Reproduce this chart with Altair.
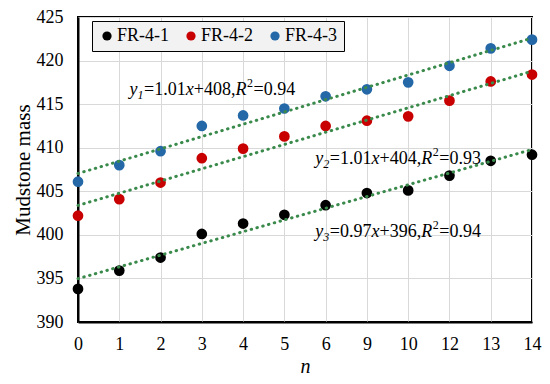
import altair as alt
import pandas as pd

# ---- data ----
n_labels = ["0", "1", "2", "3", "4", "5", "6", "9", "10", "12", "13", "14"]
series_names = ["FR-4-1", "FR-4-2", "FR-4-3"]
fr41 = [393.8, 395.9, 397.4, 400.1, 401.3, 402.3, 403.4, 404.8, 405.1, 406.8, 408.5, 409.2]
fr42 = [402.2, 404.1, 406.0, 408.8, 409.9, 411.3, 412.5, 413.1, 413.6, 415.4, 417.6, 418.4]
fr43 = [406.1, 408.0, 409.6, 412.5, 413.7, 414.5, 415.9, 416.7, 417.5, 419.4, 421.4, 422.4]
colors = ["#000000", "#c80000", "#2468a8"]

# equation labels
eq_sub = ["1", "2", "3"]
eq_slope = ["1.01", "1.01", "0.97"]
eq_intercept = ["408", "404", "396"]
eq_r2 = ["0.94", "0.93", "0.94"]
# annotation anchors (index position on x, value on y)
eq_x = [1.25, 5.75, 5.75]
eq_y = [416.1, 408.15, 399.75]

FONT = "Liberation Serif"

rows = []
for name, vals in zip(series_names, [fr41, fr42, fr43]):
    for i, v in enumerate(vals):
        rows.append({"idx": i, "n": n_labels[i], "value": v, "series": name})
df = pd.DataFrame(rows)

color = alt.Color("series:N", scale=alt.Scale(domain=series_names, range=colors),
                  legend=alt.Legend(title=None, orient="none", legendX=14, legendY=4,
                                    direction="horizontal", fillColor="#f2f2f2",
                                    strokeColor="#000000", padding=6, columnPadding=12,
                                    labelFont=FONT, labelFontSize=18, labelColor="#000000",
                                    symbolType="circle", symbolSize=85, symbolStrokeWidth=0,
                                    labelOffset=1))

label_expr = "[" + ",".join("'%s'" % s for s in n_labels) + "][datum.value]"

x = alt.X("idx:Q", scale=alt.Scale(domain=[0, len(n_labels) - 1], nice=False),
          axis=alt.Axis(title="n", values=list(range(len(n_labels))), labelExpr=label_expr,
                        labelFlush=False, titleFontStyle="italic",
                        titleY=50, titleBaseline="alphabetic"))
y = alt.Y("value:Q", scale=alt.Scale(domain=[390, 425], nice=False),
          axis=alt.Axis(title="Mudstone mass", values=list(range(390, 426, 5)),
                        labelFlush=False))

points = alt.Chart(df).mark_circle(size=115, opacity=1).encode(x=x, y=y, color=color)

trend = alt.Chart(df).transform_regression("idx", "value", groupby=["series"]).mark_line(
    color="#3a8a4c", strokeWidth=3, strokeDash=[0.5, 5.5], strokeCap="round"
).encode(x="idx:Q", y="value:Q", detail="series:N")

eq_df = pd.DataFrame({
    "ex": eq_x, "ey": eq_y,
    "y": ["y"] * 3,
    "sub": eq_sub,
    "a": ["=" + s for s in eq_slope],
    "x": ["x"] * 3,
    "b": ["+" + s + "," for s in eq_intercept],
    "R": ["R"] * 3,
    "sup": ["2"] * 3,
    "r": ["=" + s for s in eq_r2],
})

# piece: (field, dx, fontSize, fontStyle, dy)
pieces = [
    ("y", 0, 18, "italic", 0),
    ("sub", 8, 12, "italic", 4),
    ("a", 14.5, 18, "normal", 0),
    ("x", 56.2, 18, "italic", 0),
    ("b", 64.2, 18, "normal", 0),
    ("R", 106, 18, "italic", 0),
    ("sup", 117.5, 12, "normal", -8),
    ("r", 124, 18, "normal", 0),
]
eq_layers = []
for field, dx, fs, fst, dy in pieces:
    eq_layers.append(
        alt.Chart(eq_df).mark_text(align="left", baseline="alphabetic", dx=dx, dy=dy,
                                   fontSize=fs, fontStyle=fst, font=FONT, color="#000000")
        .encode(x=alt.X("ex:Q"), y=alt.Y("ey:Q"), text=alt.Text(field + ":N"))
    )

chart = alt.layer(points, trend, *eq_layers).properties(
    width=454, height=305,
    autosize=alt.AutoSizeParams(type="none"),
    padding={"left": 70, "top": 9, "right": 10, "bottom": 54},
).configure_view(stroke="#000000", strokeWidth=2).configure_axis(
    labelFont=FONT, titleFont=FONT, labelFontSize=18, titleFontSize=20,
    labelColor="#000000", titleColor="#000000", titleFontWeight="normal",
    gridColor="#d9d9d9", gridWidth=1, domainColor="#000000", domainWidth=2,
    ticks=False,
).configure_axisX(labelPadding=13).configure_axisY(
    labelPadding=15, titlePadding=3, titleFontSize=21)

chart.save("out.html", embed_options={"renderer": "svg", "actions": False})
